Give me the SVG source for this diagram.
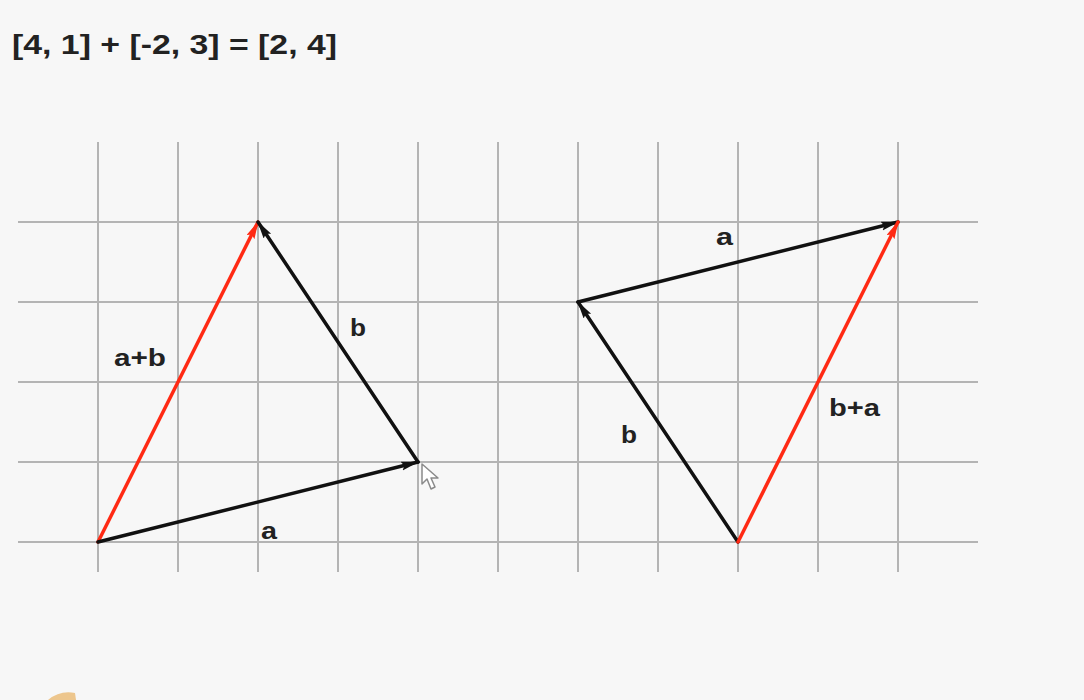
<svg xmlns="http://www.w3.org/2000/svg" width="1084" height="700" viewBox="0 0 1084 700">
<defs>
<style>
.grid line{stroke:#b4b4b4;stroke-width:2}
.vec{stroke-width:3.5;fill:none;stroke-linecap:round}
.blk{stroke:#111}
.red{stroke:#ff2a14}
.lbl{font-family:"Liberation Sans",Arial,sans-serif;font-weight:bold;font-size:23px;fill:#222}
.title{font-family:"Liberation Sans",Arial,sans-serif;font-weight:bold;font-size:27px;fill:#222}
</style>
<marker id="ahB" markerUnits="userSpaceOnUse" markerWidth="18" markerHeight="10" refX="17" refY="4.5" orient="auto">
<path d="M0,0 L18,4.5 L0,9 L3,4.5 z" fill="#111"/>
</marker>
<marker id="ahR" markerUnits="userSpaceOnUse" markerWidth="18" markerHeight="10" refX="17" refY="4.5" orient="auto">
<path d="M0,0 L18,4.5 L0,9 L3,4.5 z" fill="#ff2a14"/>
</marker>
</defs>
<rect width="1084" height="700" fill="#f7f7f7"/>
<text class="title" x="12" y="54" textLength="325" lengthAdjust="spacingAndGlyphs">[4, 1] + [-2, 3] = [2, 4]</text>
<g id="grid" class="grid">
<line x1="98" y1="142" x2="98" y2="572"/>
<line x1="178" y1="142" x2="178" y2="572"/>
<line x1="258" y1="142" x2="258" y2="572"/>
<line x1="338" y1="142" x2="338" y2="572"/>
<line x1="418" y1="142" x2="418" y2="572"/>
<line x1="498" y1="142" x2="498" y2="572"/>
<line x1="578" y1="142" x2="578" y2="572"/>
<line x1="658" y1="142" x2="658" y2="572"/>
<line x1="738" y1="142" x2="738" y2="572"/>
<line x1="818" y1="142" x2="818" y2="572"/>
<line x1="898" y1="142" x2="898" y2="572"/>
<line x1="18" y1="222" x2="978" y2="222"/>
<line x1="18" y1="302" x2="978" y2="302"/>
<line x1="18" y1="382" x2="978" y2="382"/>
<line x1="18" y1="462" x2="978" y2="462"/>
<line x1="18" y1="542" x2="978" y2="542"/>
</g>
<g id="connectors">
<line class="vec red" x1="98" y1="542" x2="258" y2="222" marker-end="url(#ahR)"/>
<line class="vec blk" x1="98" y1="542" x2="418" y2="462" marker-end="url(#ahB)"/>
<line class="vec blk" x1="418" y1="462" x2="258" y2="222" marker-end="url(#ahB)"/>
<line class="vec blk" x1="738" y1="542" x2="578" y2="302" marker-end="url(#ahB)"/>
<line class="vec blk" x1="578" y1="302" x2="898" y2="222" marker-end="url(#ahB)"/>
<line class="vec red" x1="738" y1="542" x2="898" y2="222" marker-end="url(#ahR)"/>
</g>
<g id="label-apb"><text class="lbl" x="114" y="366" textLength="52" lengthAdjust="spacingAndGlyphs">a+b</text></g>
<g id="label-b-left"><text class="lbl" x="350" y="336" textLength="16" lengthAdjust="spacingAndGlyphs">b</text></g>
<g id="label-a-left"><text class="lbl" x="261" y="539" textLength="16" lengthAdjust="spacingAndGlyphs">a</text></g>
<g id="label-a-right"><text class="lbl" x="716" y="245" textLength="17" lengthAdjust="spacingAndGlyphs">a</text></g>
<g id="label-b-right"><text class="lbl" x="621" y="443" textLength="16" lengthAdjust="spacingAndGlyphs">b</text></g>
<g id="label-bpa"><text class="lbl" x="829" y="416" textLength="51" lengthAdjust="spacingAndGlyphs">b+a</text></g>
<g id="cursor">
<path d="M422,464 L422,484 L427,479 L431,489 L435,487 L431,478 L438,478 z" fill="#ffffff" stroke="#8a8a8a" stroke-width="1.5" stroke-linejoin="round"/>
</g>
<path d="M48,700 Q60,690 75,693 L76,700 z" fill="#e8b060" opacity="0.7"/>
</svg>
